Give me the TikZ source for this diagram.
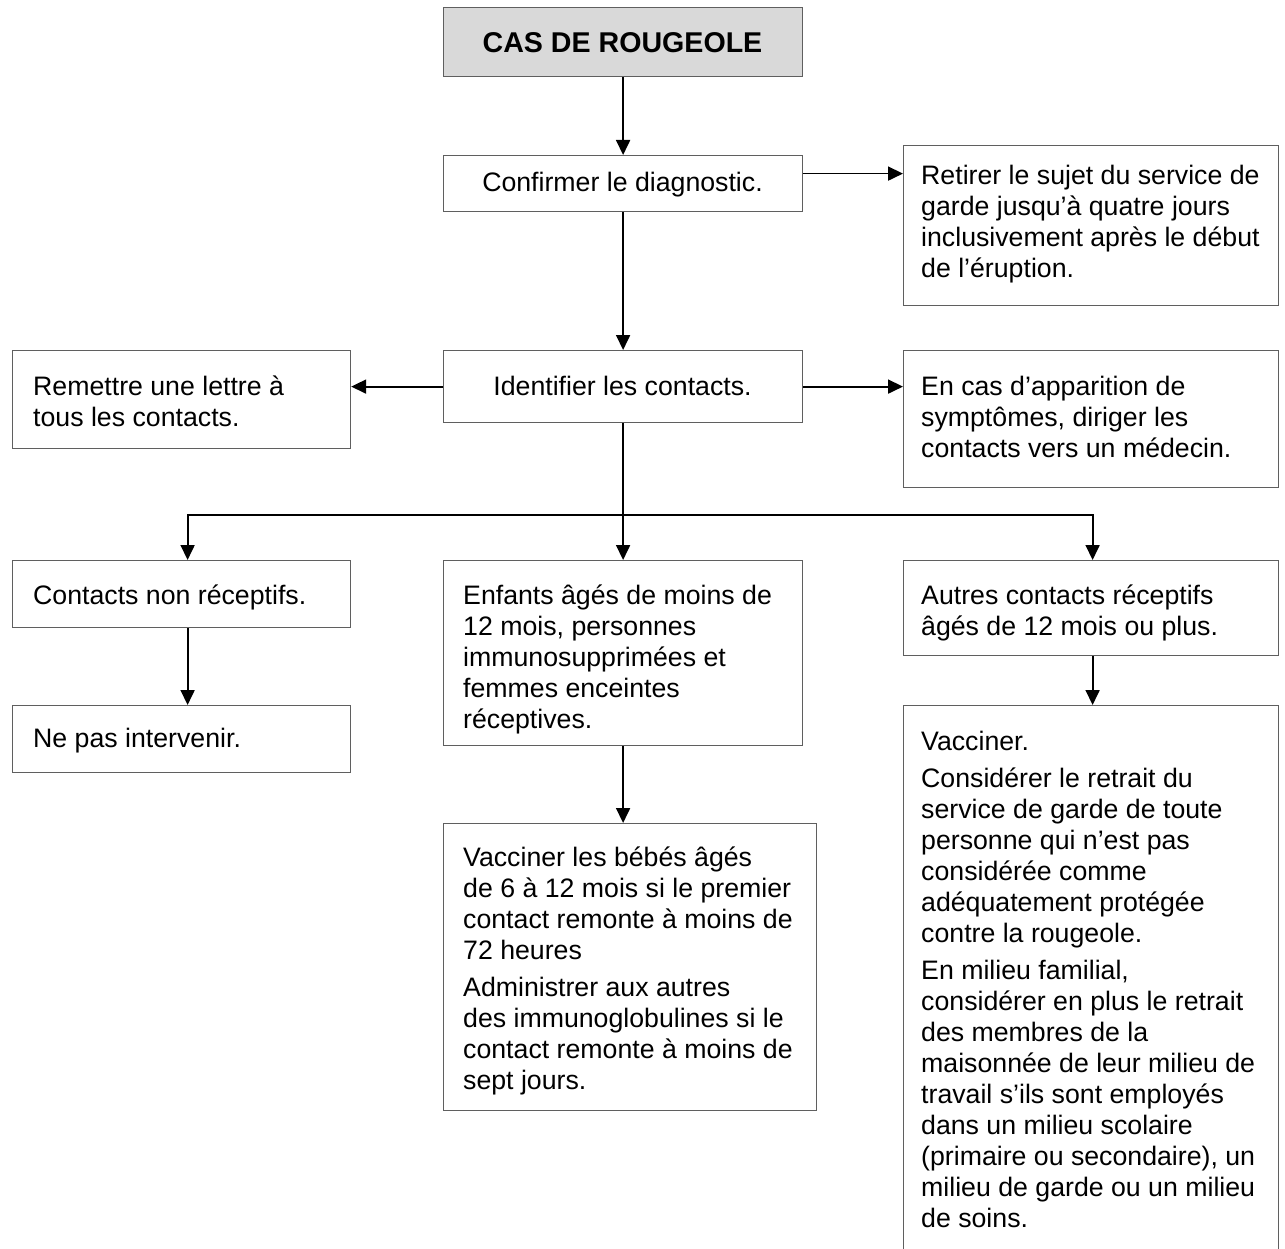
\documentclass[tikz,border=0pt]{standalone}
\usepackage{fontspec}
\setmainfont{Liberation Sans}
\usetikzlibrary{arrows.meta}
\definecolor{titlefill}{RGB}{217,217,217}
\definecolor{boxline}{RGB}{95,95,95}
\begin{document}
\begin{tikzpicture}[x=1pt,y=-1pt,
  box/.style={draw=boxline, line width=1.2pt, rectangle, inner sep=0pt, anchor=north west},
  txt/.style={inner sep=0pt, anchor=north west, align=left, font=\fontsize{26.7}{31}\selectfont},
  ctxt/.style={inner sep=0pt, anchor=base, font=\fontsize{26.7}{31}\selectfont},
  conn/.style={line width=1.8pt, -{Triangle[length=15pt,width=14pt]}}]
\clip (0,0) rectangle (1285,1249);
\path[use as bounding box] (0,0) rectangle (1285,1249);
\fill[white] (0,0) rectangle (1285,1249);

% boxes
\node[box, fill=titlefill, minimum width=359pt, minimum height=69pt] (cas) at (443,7) {};
\node[box, minimum width=359pt, minimum height=56pt] (confirm) at (443,155) {};
\node[box, minimum width=375pt, minimum height=160pt] (retirer) at (903,145) {};
\node[box, minimum width=359pt, minimum height=72pt] (ident) at (443,350) {};
\node[box, minimum width=338pt, minimum height=98pt] (remettre) at (12,350) {};
\node[box, minimum width=375pt, minimum height=137pt] (encas) at (903,350) {};
\node[box, minimum width=338pt, minimum height=67pt] (contacts) at (12,560) {};
\node[box, minimum width=338pt, minimum height=67pt] (nepas) at (12,705) {};
\node[box, minimum width=359pt, minimum height=185pt] (enfants) at (443,560) {};
\node[box, minimum width=375pt, minimum height=95pt] (autres) at (903,560) {};
\node[box, minimum width=373pt, minimum height=287pt] (bebes) at (443,823) {};
\node[box, minimum width=375pt, minimum height=600pt] (vacc) at (903,705) {};

% texts
\node[inner sep=0pt, anchor=base, font=\fontsize{28.6}{33}\selectfont\bfseries] (cas-t) at (622.5,53) {CAS DE ROUGEOLE};
\node[ctxt] (confirm-t) at (622.5,192) {Confirmer le diagnostic.};
\node[ctxt] (ident-t) at (622.5,395) {Identifier les contacts.};
\node[txt] (retirer-t) at (921,162.3) {\strut Retirer le sujet du service de\\garde jusqu’à quatre jours\\inclusivement après le début\\de l’éruption.};
\node[txt] (remettre-t) at (33,373.3) {\strut Remettre une lettre à\\tous les contacts.};
\node[txt] (encas-t) at (921,373.3) {\strut En cas d’apparition de\\symptômes, diriger les\\contacts vers un médecin.};
\node[txt] (contacts-t) at (33,582.3) {\strut Contacts non réceptifs.};
\node[txt] (nepas-t) at (33,725.3) {\strut Ne pas intervenir.};
\node[txt] (enfants-t) at (463,582.3) {\strut Enfants âgés de moins de\\12 mois, personnes\\immunosupprimées et\\femmes enceintes\\réceptives.};
\node[txt] (autres-t) at (921,582.3) {\strut Autres contacts réceptifs\\âgés de 12 mois ou plus.};
\node[txt] (bebes-t) at (463,844.3) {\strut Vacciner les bébés âgés\\de 6 à 12 mois si le premier\\contact remonte à moins de\\72 heures\\[6pt]Administrer aux autres\\des immunoglobulines si le\\contact remonte à moins de\\sept jours.};
\node[txt] (vacc-t) at (921,728.3) {\strut Vacciner.\\[6pt]Considérer le retrait du\\service de garde de toute\\personne qui n’est pas\\considérée comme\\adéquatement protégée\\contre la rougeole.\\[6pt]En milieu familial,\\considérer en plus le retrait\\des membres de la\\maisonnée de leur milieu de\\travail s’ils sont employés\\dans un milieu scolaire\\(primaire ou secondaire), un\\milieu de garde ou un milieu\\de soins.};

% connectors
\draw[conn] (cas.south) -- (confirm.north);
\draw[conn] ([yshift=10pt]confirm.east) -- ([yshift=10pt]confirm.east -| retirer.west);
\draw[conn] (confirm.south) -- (ident.north);
\draw[conn] (ident.west) -- (ident.west -| remettre.east);
\draw[conn] (ident.east) -- (ident.east -| encas.west);
\draw[conn] (ident.south) -- (enfants.north);
\coordinate (split) at (622.5,515);
\draw[conn] (split) -| ([xshift=6pt]contacts.north);
\draw[conn] (split) -| ([xshift=1.5pt]autres.north);
\draw[conn] ([xshift=6pt]contacts.south) -- ([xshift=6pt]nepas.north);
\draw[conn] (enfants.south) -- (enfants.south |- bebes.north);
\draw[conn] ([xshift=1.5pt]autres.south) -- ([xshift=1.5pt]vacc.north);
\end{tikzpicture}
\end{document}
